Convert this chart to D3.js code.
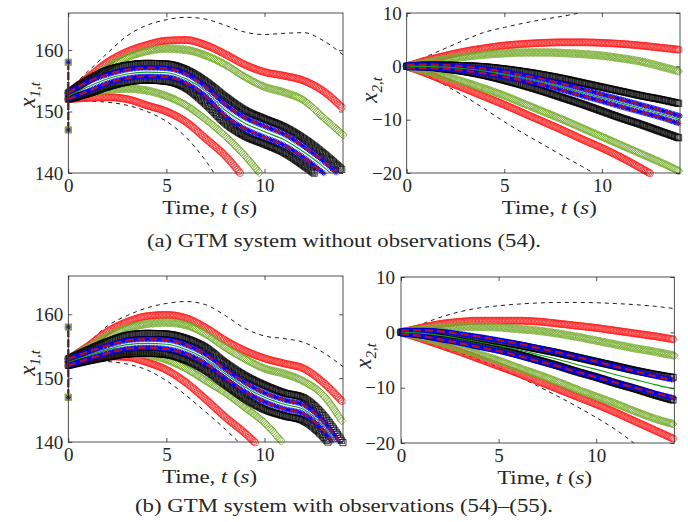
<!DOCTYPE html>
<html><head><meta charset="utf-8">
<script src="https://cdn.jsdelivr.net/npm/d3@7"></script>
<style>body{margin:0;background:#fff}svg{display:block}text{font-family:"Liberation Serif","Times New Roman",serif;fill:#262626}</style>
</head><body><svg id="c" width="688" height="522"></svg>
<script>
// ---------- data ----------
const time = [0,1,2,3,4,5,6,7,8,9,10,11,12,13,14];
const xTicks = [0,5,10];
const x1Ticks = [140,150,160];
const x2Ticks = [-20,-10,0,10];
const x1Limits = [140,166];
const x2Limits = [-20,10];
const tLimits = [0,14];
const x1Init = [147,158];
const captions = ["(a) GTM system without observations (54).","(b) GTM system with observations (54)\u2013(55)."];

// (a) x1
const a1DashU = [153.5,156.5,159.5,162.3,164,164.9,165.3,165,164,162.9,162.5,162.7,162.8,161.5,159.2];
const a1DashL = [152,151.7,151.5,151,150,148.4,145.8,142,137];
const a1RedU  = [153,155.5,158,159.7,160.8,161.5,161.6,160.8,159.3,157.6,156.4,155.8,155,153.3,150.5];
const a1RedL  = [152,152.2,152.3,152,151,150,148.3,145.6,142.8,139];
const a1GrnU  = [153,155,157.2,158.8,159.8,160.2,160,159.1,157.6,155.6,154,153.1,151.8,149,146.2];
const a1GrnL  = [152,153,153.5,153.7,153.4,152.5,151,148.7,146,142.8,139];
const a1BlkU  = [153,155.1,156.7,157.5,157.8,157.7,156.8,154.9,152.4,150.2,148.8,147.5,145.6,143.2,140.4];
const a1BlkL  = [152,152.9,154,154.8,155.1,154.9,153.8,151.2,148.1,146,144.7,143.3,141.2,138.8,136];
const a1CrmU  = [153,154.8,156,156.8,157.1,157,156.1,154,151.1,149,147.6,146.3,144.3,141.9,139];
const a1CrmL  = [152,153.3,154.6,155.4,155.7,155.6,154.6,152.5,149.3,147.2,145.8,144.5,142.5,140,137];
const a1Mean  = [152.5,154,155.3,156.1,156.4,156.3,155.3,153.3,150.2,148.1,146.7,145.4,143.4,141,138];

// (a) x2
const a2DashU = [0,1.8,3.4,5,6.4,7.3,8.1,8.8,9.4,10.1,10.7];
const a2DashL = [0,-1.6,-3.6,-5.7,-8,-10.4,-12.6,-14.7,-16.8,-18.8,-21];
const a2RedU  = [0,1.1,2,2.8,3.4,3.9,4.2,4.4,4.5,4.5,4.4,4.2,3.9,3.5,3.1];
const a2RedL  = [0,-1.3,-2.8,-4.2,-5.7,-7.2,-8.8,-10.4,-12,-13.7,-15.3,-17.1,-19.1,-21.2];
const a2GrnU  = [0,0.7,1.3,1.8,2.2,2.45,2.6,2.6,2.5,2.3,2,1.5,0.9,0,-1];
const a2GrnL  = [0,-0.9,-1.9,-3,-4.2,-5.5,-7,-8.5,-10,-11.6,-13.2,-14.8,-16.4,-18,-19.7];
const a2BlkU  = [0,0.2,0.2,0.1,-0.1,-0.5,-1,-1.6,-2.3,-3.1,-3.9,-4.7,-5.5,-6.2,-7];
const a2BlkL  = [0,-0.1,-0.5,-1,-1.7,-2.6,-3.6,-4.7,-5.9,-7.1,-8.4,-9.7,-10.9,-12.2,-13.5];
const a2CrmU  = [0.3,0.3,0.2,-0.05,-0.45,-1,-1.7,-2.45,-3.3,-4.25,-5.25,-6.2,-7.2,-8.2,-9.3];
const a2CrmL  = [-0.3,-0.3,-0.5,-0.85,-1.35,-2,-2.7,-3.55,-4.5,-5.55,-6.55,-7.6,-8.6,-9.6,-10.8];
const a2Mean  = [0,0,-0.15,-0.45,-0.9,-1.5,-2.2,-3,-3.9,-4.9,-5.9,-6.9,-7.9,-8.9,-10];

// (b) x1
const b1DashU = [153,155.5,158.2,159.8,161,161.7,162,161.5,159.8,157.8,156.6,156.2,155.6,154,151.8];
const b1DashL = [152.5,152.7,152.6,152.2,151.3,149.6,147.3,144.7,142,139];
const b1RedU  = [153,155,157.3,158.8,159.7,159.9,159.4,157.9,155.9,154.3,153.1,152.3,151.5,149.3,146.2];
const b1RedL  = [152,152.8,153.4,153.3,152.5,151.3,149.3,146.7,143.9,141.4,138.5];
const b1GrnU  = [153,154.8,156.6,157.8,158.5,158.7,158.3,156.9,154.8,153,151.5,150.7,149.5,147.3,143];
const b1GrnL  = [152.5,153.5,154,154.1,153.7,152.9,151.5,149.6,147.7,145.4,143,139.6];
const b1BlkU  = [153,154.4,155.7,156.7,157,156.9,156.2,154.8,152.4,150.4,148.9,147.7,146.9,144.2,139.9];
const b1BlkL  = [152,152.7,153.3,153.8,153.9,153.7,152.8,151.2,149,146.8,145.1,144.1,143.3,140.8,136.8];
const b1CrmU  = [153,154.1,155.1,155.9,156.1,156,155.2,153.7,151.4,149.3,147.7,146.6,145.8,143.2,139.2];
const b1CrmL  = [152,153,153.9,154.6,154.8,154.6,153.8,152.3,150,147.9,146.3,145.2,144.4,141.8,137.6];
const b1Mean  = [152.5,153.55,154.5,155.25,155.45,155.3,154.5,153,150.7,148.6,147,145.9,145.1,142.5,138.4];

// (b) x2
const b2DashU = [0,1.4,2.7,3.7,4.4,4.8,5.1,5.3,5.4,5.4,5.35,5.2,5,4.7,4.3];
const b2DashL = [0,-1.3,-2.7,-3.7,-5,-6.4,-8,-9.7,-11.5,-13.4,-15.4,-17.6,-20.2,-23];
const b2RedU  = [0,0.8,1.5,1.9,2.1,2.1,2.1,1.95,1.6,1.2,0.8,0.3,-0.2,-0.7,-1.3];
const b2RedL  = [0,-1.1,-2.3,-3.5,-4.8,-6.1,-7.4,-8.8,-10.2,-11.6,-13,-14.5,-16.1,-17.7,-19.3];
const b2GrnU  = [0,0.5,0.8,1,1,0.9,0.6,0.3,-0.2,-0.8,-1.5,-2.2,-2.9,-3.5,-4.2];
const b2GrnL  = [0,-0.8,-1.8,-2.9,-4,-5.1,-6.4,-7.6,-8.9,-10.3,-11.6,-12.9,-14.3,-15.6,-16.6];
const b2BlkU  = [0,0.1,-0.1,-0.6,-1.1,-1.7,-2.3,-3,-3.7,-4.5,-5.3,-6.1,-6.9,-7.6,-8.2];
const b2BlkL  = [0,-0.4,-1,-1.6,-2.4,-3.1,-4,-5,-6,-7.1,-8.1,-9.2,-10.2,-11.3,-12.3];
const b2CrmU  = [0.3,0.35,0.2,-0.25,-0.8,-1.4,-2.05,-2.8,-3.6,-4.45,-5.3,-6.2,-7.05,-7.9,-8.65];
const b2CrmL  = [-0.3,-0.65,-1.3,-1.95,-2.7,-3.4,-4.25,-5.2,-6.1,-7.15,-8.1,-9.1,-10.05,-11,-11.85];
const b2Mean  = [0,-0.15,-0.55,-1.1,-1.75,-2.4,-3.15,-4,-4.85,-5.8,-6.7,-7.65,-8.55,-9.45,-10.25];

// ---------- drawing ----------
const svg = d3.select('#c');
const FONT = '"Liberation Serif","Times New Roman",serif';
const COL = {red:'#ff2020', grn:'#77ac30', blk:'#000000', blu:'#0000ff', crm:'#a2142f', mean:'#129a12', axis:'#262626'};
const SHAPES = {
  circle: r => `M${r},0A${r},${r} 0 1 1 ${-r},0A${r},${r} 0 1 1 ${r},0Z`,
  diamond: r => `M0,${-r}L${r},0L0,${r}L${-r},0Z`,
  square: r => `M${-r},${-r}H${r}V${r}H${-r}Z`,
  star: r => { const a = r*0.72; return `M${-r},0H${r}M0,${-r}V${r}M${-a},${-a}L${a},${a}M${-a},${a}L${a},${-a}`; }
};

function panel(cfg, S, sub) {
  const x = d3.scaleLinear().domain(tLimits).range([cfg.x0, cfg.x1]);
  const y = d3.scaleLinear().domain(cfg.ydom).range([cfg.y1, cfg.y0]);
  const id = 'clip' + cfg.id;
  svg.append('clipPath').attr('id', id).append('rect')
    .attr('x', cfg.x0).attr('y', cfg.y0).attr('width', cfg.x1 - cfg.x0).attr('height', cfg.y1 - cfg.y0);
  const g = svg.append('g');
  const line = d3.line().x((d, i) => x(time[i])).y(d => y(d)).curve(d3.curveMonotoneX);

  function drawLine(vals, color, w, dash) {
    g.append('path').attr('d', line(vals)).attr('clip-path', `url(#${id})`)
      .attr('fill', 'none').attr('stroke', color).attr('stroke-width', w)
      .attr('stroke-dasharray', dash || null);
  }
  function drawMarkers(vals, shape, r, color, sw) {
    const p = g.append('path').attr('d', line(vals)).attr('fill', 'none').attr('stroke', 'none');
    const node = p.node(), L = node.getTotalLength();
    const dx = (x(tLimits[1]) - x(tLimits[0])) / 200;
    let nx = x(0);
    const pts = [];
    for (let s = 0; s <= L + 0.01; s += 0.25) {
      const pt = node.getPointAtLength(Math.min(s, L));
      if (pt.x >= nx - 0.05) { pts.push({x: pt.x, y: pt.y}); nx += dx; }
    }
    p.remove();
    const inside = pts.filter(d => d.y >= cfg.y0 - 0.6 && d.y <= cfg.y1 + 0.6 && d.x <= cfg.x1 + 0.6);
    const dpath = SHAPES[shape](r);
    g.append('g').selectAll('path').data(inside).join('path')
      .attr('transform', d => `translate(${d.x.toFixed(2)},${d.y.toFixed(2)})`)
      .attr('d', dpath).attr('fill', 'none').attr('stroke', color).attr('stroke-width', sw);
  }

  drawLine(S.dashU, COL.blk, 0.9, '4,4');
  drawLine(S.dashL, COL.blk, 0.9, '4,4');
  drawMarkers(S.redU, 'circle', 3.5, COL.red, 0.75);
  drawMarkers(S.redL, 'circle', 3.5, COL.red, 0.75);
  drawMarkers(S.grnU, 'diamond', 4.1, COL.grn, 0.8);
  drawMarkers(S.grnL, 'diamond', 4.1, COL.grn, 0.8);
  drawMarkers(S.blkU, 'square', 3.1, COL.blk, 0.75);
  drawMarkers(S.blkL, 'square', 3.1, COL.blk, 0.75);
  drawMarkers(S.crmU, 'star', 2.8, COL.blu, 0.8);
  drawMarkers(S.crmL, 'star', 2.8, COL.blu, 0.8);
  drawLine(S.crmU, COL.crm, 2.4, '8,4');
  drawLine(S.crmL, COL.crm, 2.4, '8,4');
  drawLine(S.mean, COL.mean, 1.1);

  if (S.init) {
    g.append('line').attr('x1', x(0)).attr('x2', x(0)).attr('y1', y(S.init[0])).attr('y2', y(S.init[1]))
      .attr('stroke', COL.crm).attr('stroke-width', 2.4).attr('stroke-dasharray', '8,2');
    S.init.forEach(v => {
      g.append('path').attr('transform', `translate(${x(0)},${y(v)})`).attr('d', SHAPES.square(3.2))
        .attr('fill', '#a8a048').attr('stroke', COL.grn).attr('stroke-width', 0.8);
      g.append('path').attr('transform', `translate(${x(0)},${y(v)})`).attr('d', SHAPES.star(2.6))
        .attr('fill', 'none').attr('stroke', COL.blu).attr('stroke-width', 0.9);
    });
  }

  // axes (box with inward ticks)
  const ax = svg.append('g');
  const bottom = d3.axisBottom(x).tickValues(xTicks).tickSizeInner(-4).tickSizeOuter(0).tickPadding(6);
  const left = d3.axisLeft(y).tickValues(cfg.yticks).tickSizeInner(-4).tickSizeOuter(0).tickPadding(cfg.pad);
  const top = d3.axisTop(x).tickValues(xTicks).tickSizeInner(-4).tickSizeOuter(0).tickFormat('');
  const right = d3.axisRight(y).tickValues(cfg.yticks).tickSizeInner(-4).tickSizeOuter(0).tickFormat('');
  ax.append('g').attr('transform', `translate(0,${cfg.y1})`).call(bottom);
  ax.append('g').attr('transform', `translate(${cfg.x0},0)`).call(left);
  ax.append('g').attr('transform', `translate(0,${cfg.y0})`).call(top);
  ax.append('g').attr('transform', `translate(${cfg.x1},0)`).call(right);
  ax.selectAll('.domain').remove();
  ax.selectAll('.tick line').attr('stroke', COL.axis).attr('stroke-width', 0.8);
  ax.selectAll('.tick text').attr('font-size', 19).attr('font-family', FONT).attr('fill', COL.axis);
  ax.append('rect').attr('x', cfg.x0).attr('y', cfg.y0).attr('width', cfg.x1 - cfg.x0).attr('height', cfg.y1 - cfg.y0)
    .attr('fill', 'none').attr('stroke', COL.axis).attr('stroke-width', 0.8);

  // x label
  const xl = svg.append('text').attr('x', (cfg.x0 + cfg.x1) / 2 + cfg.xlabDx).attr('y', cfg.y1 + 41)
    .attr('text-anchor', 'middle').attr('font-size', 18).attr('font-family', FONT)
    .attr('textLength', 95).attr('lengthAdjust', 'spacingAndGlyphs');
  xl.append('tspan').text('Time, ');
  xl.append('tspan').attr('font-style', 'italic').text('t');
  xl.append('tspan').text(' (');
  xl.append('tspan').attr('font-style', 'italic').text('s');
  xl.append('tspan').text(')');
  // y label
  const yl = svg.append('text').attr('transform', `translate(${cfg.x0 - cfg.ylabDx},${cfg.ylabY}) rotate(-90)`)
    .attr('text-anchor', 'middle').attr('font-size', 23).attr('font-style', 'italic').attr('font-family', FONT);
  yl.append('tspan').text('x');
  yl.append('tspan').attr('font-size', 15).attr('dy', 5).text(sub);
}

panel({id: 'a1', x0: 68.3, x1: 343, y0: 13, y1: 173, ydom: x1Limits, yticks: x1Ticks, pad: 5, ylabY: 95, ylabDx: 33, xlabDx: 4},
  {dashU: a1DashU, dashL: a1DashL, redU: a1RedU, redL: a1RedL, grnU: a1GrnU, grnL: a1GrnL,
   blkU: a1BlkU, blkL: a1BlkL, crmU: a1CrmU, crmL: a1CrmL, mean: a1Mean, init: x1Init}, '1,t');
panel({id: 'a2', x0: 406.7, x1: 680, y0: 13, y1: 173, ydom: x2Limits, yticks: x2Ticks, pad: 5, ylabY: 90, ylabDx: 30, xlabDx: 6},
  {dashU: a2DashU, dashL: a2DashL, redU: a2RedU, redL: a2RedL, grnU: a2GrnU, grnL: a2GrnL,
   blkU: a2BlkU, blkL: a2BlkL, crmU: a2CrmU, crmL: a2CrmL, mean: a2Mean}, '2,t');
panel({id: 'b1', x0: 68.3, x1: 343, y0: 276, y1: 442, ydom: x1Limits, yticks: x1Ticks, pad: 5, ylabY: 363, ylabDx: 33, xlabDx: 4},
  {dashU: b1DashU, dashL: b1DashL, redU: b1RedU, redL: b1RedL, grnU: b1GrnU, grnL: b1GrnL,
   blkU: b1BlkU, blkL: b1BlkL, crmU: b1CrmU, crmL: b1CrmL, mean: b1Mean, init: x1Init}, '1,t');
panel({id: 'b2', x0: 401, x1: 674.3, y0: 277, y1: 443, ydom: x2Limits, yticks: x2Ticks, pad: 6, ylabY: 356, ylabDx: 30, xlabDx: 7},
  {dashU: b2DashU, dashL: b2DashL, redU: b2RedU, redL: b2RedL, grnU: b2GrnU, grnL: b2GrnL,
   blkU: b2BlkU, blkL: b2BlkL, crmU: b2CrmU, crmL: b2CrmL, mean: b2Mean}, '2,t');

svg.append('text').attr('x', 344).attr('y', 247).attr('text-anchor', 'middle').attr('font-size', 18.5).attr('font-family', FONT)
  .attr('textLength', 394).attr('lengthAdjust', 'spacingAndGlyphs').text(captions[0]);
svg.append('text').attr('x', 344).attr('y', 512).attr('text-anchor', 'middle').attr('font-size', 18.5).attr('font-family', FONT)
  .attr('textLength', 418).attr('lengthAdjust', 'spacingAndGlyphs').text(captions[1]);
</script></body></html>
